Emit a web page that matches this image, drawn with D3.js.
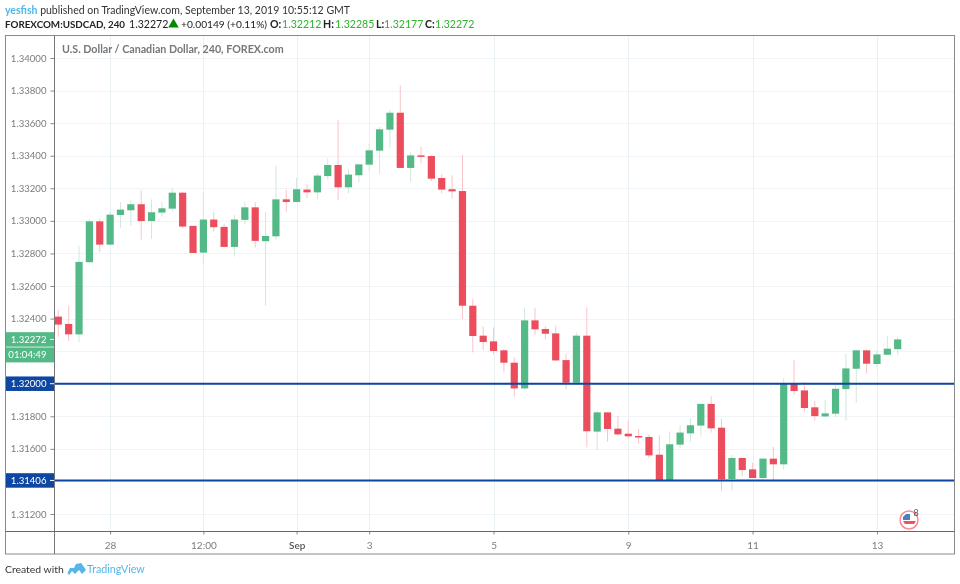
<!DOCTYPE html>
<html>
<head>
<meta charset="utf-8">
<script src="https://cdn.jsdelivr.net/npm/d3@7"></script>
<style>
  html, body { margin: 0; padding: 0; background: #fff; }
  svg { display: block; filter: blur(0.35px); }
  text { font-family: Lato, sans-serif; }
  .domain { display: none; }
</style>
</head>
<body>
<svg id="chart" width="960" height="584"></svg>
<script>
// --- DATA ---

const opens = [1.32412,1.32367,1.32303,1.32746,1.32997,1.32854,1.33036,1.33065,1.33102,1.32999,1.33051,1.33075,1.33173,1.32969,1.32805,1.33008,1.32963,1.32840,1.33006,1.33083,1.32875,1.32905,1.33132,
  1.33116,1.33192,1.33175,1.33275,1.33343,1.33206,1.33280,1.33345,1.33431,1.33560,1.33664,1.33325,1.33402,1.33398,1.33263,1.33194,1.33183,1.32479,1.32295,1.32260,1.32205,1.32129,1.31971,1.32389,1.32336,1.32309,1.32145,1.32006,
  1.32295,1.31706,1.31824,1.31724,1.31693,1.31679,1.31673,1.31564,1.31405,1.31626,1.31695,1.31743,1.31876,1.31730,1.31415,1.31544,1.31474,1.31421,1.31540,1.31505,1.32002,1.31959,1.31855,1.31799,1.31816,1.31967,1.32092,1.32205,1.32121,1.32178,1.32212];
const closes = [1.32363,1.32303,1.32748,1.32997,1.32854,1.33038,1.33069,1.33102,1.32999,1.33053,1.33077,1.33173,1.32965,1.32803,1.33008,1.32961,1.32840,1.33008,1.33083,1.32877,1.32907,1.33132,1.33116,
  1.33194,1.33175,1.33278,1.33343,1.33206,1.33284,1.33347,1.33433,1.33562,1.33664,1.33325,1.33402,1.33394,1.33259,1.33192,1.33181,1.32479,1.32293,1.32256,1.32201,1.32129,1.31971,1.32389,1.32334,1.32307,1.32143,1.32006,1.32295,
  1.31708,1.31824,1.31722,1.31689,1.31677,1.31671,1.31560,1.31405,1.31628,1.31700,1.31745,1.31876,1.31726,1.31413,1.31544,1.31470,1.31421,1.31540,1.31505,1.31998,1.31955,1.31851,1.31801,1.31818,1.31969,1.32094,1.32205,1.32123,1.32180,1.32215,1.32272];
const highs = [1.32453,1.32477,1.32846,1.33010,1.33014,1.33053,1.33114,1.33126,1.33188,1.33132,1.33118,1.33200,1.33175,1.32969,1.33175,1.33055,1.32981,1.33036,1.33118,1.33114,1.33053,1.33339,1.33190,
  1.33265,1.33224,1.33292,1.33384,1.33619,1.33318,1.33347,1.33472,1.33578,1.33681,1.33832,1.33419,1.33454,1.33402,1.33288,1.33280,1.33404,1.32522,1.32350,1.32346,1.32215,1.32162,1.32463,1.32467,1.32354,1.32356,1.32182,1.32315,
  1.32469,1.31835,1.31824,1.31802,1.31775,1.31722,1.31687,1.31683,1.31708,1.31745,1.31785,1.31876,1.31923,1.31785,1.31562,1.31544,1.31515,1.31544,1.31612,1.32033,1.32146,1.32010,1.31896,1.31900,1.32002,1.32186,1.32207,1.32207,1.32207,1.32295,1.32285];
const lows = [1.32289,1.32262,1.32256,1.32744,1.32809,1.32854,1.32958,1.32971,1.32885,1.32889,1.33026,1.33057,1.32956,1.32803,1.32733,1.32934,1.32838,1.32780,1.32979,1.32836,1.32479,1.32883,1.33057,
  1.33112,1.33140,1.33134,1.33251,1.33128,1.33169,1.33237,1.33306,1.33286,1.33449,1.33323,1.33241,1.33353,1.33245,1.33169,1.33138,1.32397,1.32192,1.32207,1.32182,1.32068,1.31920,1.31961,1.32301,1.32272,1.32141,1.31965,1.32006,
  1.31609,1.31593,1.31644,1.31683,1.31661,1.31634,1.31544,1.31405,1.31401,1.31605,1.31644,1.31683,1.31700,1.31343,1.31343,1.31433,1.31421,1.31399,1.31409,1.31474,1.31931,1.31830,1.31773,1.31793,1.31795,1.31773,1.31883,1.32063,1.32104,1.32176,1.32177];

const priceTicks = [1.34,1.338,1.336,1.334,1.332,1.33,1.328,1.326,1.324,1.322,1.32,1.318,1.316,1.314,1.312];
// these labels sit behind the price tags, so the reference doesn't show them
const hiddenPriceLabels = [1.322, 1.32, 1.314];
const timeTickBars = [5,14,23,30,42,55,67,79];
const timeTickLabels = ["28","12:00","Sep","3","5","9","11","13"];
const levels = [1.32, 1.31406];

const lastPrice = 1.32272;
const countdown = "01:04:49";

// --- COLORS ---

const upColor = "#53b987";
const downColor = "#eb4d5c";
const upWick = "#cfe9dc";
const downWick = "#fbc3c9";
const levelColor = "#0d47a1";
const gridColor = "#f0f4f8";
const frameColor = "#8a8a8a";
const axisFont = "Roboto, sans-serif";

// --- SCALES ---

const plot = { left: 54.5, right: 954.5, top: 35.5, bottom: 531.5 };
const y = d3.scaleLinear().domain([1.34, 1.312]).range([58, 514]);
const x = d3.scaleLinear().domain([0, 81]).range([58.3, 897.7]);

const svg = d3.select("#chart");
const fmt = d3.format(".5f");

// --- GRID ---

svg.append("g").selectAll("line").data(priceTicks).join("line")
    .attr("x1", plot.left).attr("x2", plot.right)
    .attr("y1", d => Math.round(y(d)) + 0.5).attr("y2", d => Math.round(y(d)) + 0.5)
    .attr("stroke", gridColor);

svg.append("g").selectAll("line").data(timeTickBars).join("line")
    .attr("x1", d => Math.round(x(d)) + 0.5).attr("x2", d => Math.round(x(d)) + 0.5)
    .attr("y1", plot.top).attr("y2", plot.bottom)
    .attr("stroke", "#eaf1f5");

// --- CANDLES ---

const candles = opens.map((o, i) => ({ i, o, h: highs[i], l: lows[i], c: closes[i], up: closes[i] >= o }));

svg.append("g").selectAll("line").data(candles).join("line")
    .attr("x1", d => x(d.i)).attr("x2", d => x(d.i))
    .attr("y1", d => y(d.h)).attr("y2", d => y(d.l))
    .attr("stroke", d => d.up ? upWick : downWick)
    .attr("stroke-width", 1);

svg.append("g").selectAll("rect").data(candles).join("rect")
    .attr("x", d => x(d.i) - 3.6)
    .attr("width", 7.2)
    .attr("y", d => y(Math.max(d.o, d.c)))
    .attr("height", d => Math.max(1.5, Math.abs(y(d.o) - y(d.c))))
    .attr("fill", d => d.up ? upColor : downColor);

// --- LEVEL LINES ---

svg.append("g").selectAll("line").data(levels).join("line")
    .attr("x1", plot.left).attr("x2", plot.right)
    .attr("y1", d => y(d)).attr("y2", d => y(d))
    .attr("stroke", levelColor).attr("stroke-width", 2);

// --- AXES ---

const priceAxis = d3.axisLeft(y).tickValues(priceTicks)
    .tickFormat(d => hiddenPriceLabels.includes(d) ? "" : fmt(d)).tickSize(4).tickPadding(4);
const gPrice = svg.append("g").attr("transform", `translate(${plot.left},0)`).call(priceAxis);
gPrice.selectAll("text").attr("font-size", 9.6).attr("fill", "#7c7c7c").attr("font-family", axisFont);
gPrice.selectAll("text").filter(d => hiddenPriceLabels.includes(d)).remove();
gPrice.selectAll("line").attr("stroke", "#8a8a8a");

const timeAxis = d3.axisBottom(x).tickValues(timeTickBars)
    .tickFormat((d, i) => timeTickLabels[i]).tickSize(3).tickPadding(7);
const gTime = svg.append("g").attr("transform", `translate(0,${plot.bottom})`).call(timeAxis);
gTime.selectAll("text").attr("font-size", 10).attr("fill", "#7c7c7c").attr("font-family", axisFont);
gTime.selectAll("text").filter(d => d === 23).attr("font-weight", 600).attr("fill", "#555");
gTime.selectAll("line").attr("stroke", "#8a8a8a");

// price tags on the axis
function priceTag(cy, h, fill, label, tick) {
    svg.append("rect").attr("x", 5.5).attr("y", cy - h / 2).attr("width", 49).attr("height", h).attr("fill", fill);
    svg.append("text").attr("x", 46.5).attr("y", cy + 3.5).attr("text-anchor", "end")
        .attr("font-size", 9.6).attr("font-family", axisFont).attr("fill", "#fff").text(label);
    if (tick) svg.append("line").attr("x1", 50).attr("x2", 54).attr("y1", cy).attr("y2", cy).attr("stroke", "#fff");
}
priceTag(y(lastPrice), 14.5, upColor, fmt(lastPrice), true);
priceTag(y(lastPrice) + 15.5, 15, upColor, countdown, false);
levels.forEach(l => priceTag(y(l), 14.5, levelColor, fmt(l), true));

// --- FRAME ---

svg.append("rect").attr("x", 5.5).attr("y", plot.top).attr("width", 949).attr("height", 518.5)
    .attr("fill", "none").attr("stroke", frameColor);
svg.append("line").attr("x1", plot.left).attr("x2", plot.left).attr("y1", plot.top).attr("y2", 554)
    .attr("stroke", "#777").attr("stroke-width", 1);
svg.append("line").attr("x1", 5.5).attr("x2", plot.right).attr("y1", plot.bottom).attr("y2", plot.bottom)
    .attr("stroke", "#666");

// --- HEADER TEXT ---

const line1 = svg.append("text").attr("x", 5).attr("y", 14).attr("font-size", 10.5).attr("fill", "#333");
line1.append("tspan").attr("fill", "#4fb6e8").attr("font-weight", 700).text("yesfish");
line1.append("tspan").text(" published on TradingView.com, September 13, 2019 10:55:12 GMT");

// second header line, each chunk at its own x and size
const header2 = [
    { x: 5, s: 9.8, t: "FOREXCOM:USDCAD, 240", w: 700, c: "#222" },
    { x: 129, s: 10.6, t: "1.32272", w: 400, c: "#222" },
    { x: 181, s: 10.2, t: "+0.00149 (+0.11%)", w: 400, c: "#222" },
    { x: 270, s: 10.6, t: "O:", w: 700, c: "#222" },
    { x: 282, s: 10.6, t: "1.32212", w: 400, c: "#2db32d" },
    { x: 323, s: 10.6, t: "H:", w: 700, c: "#222" },
    { x: 335, s: 10.6, t: "1.32285", w: 400, c: "#2db32d" },
    { x: 376, s: 10.6, t: "L:", w: 700, c: "#222" },
    { x: 384, s: 10.6, t: "1.32177", w: 400, c: "#2db32d" },
    { x: 425, s: 10.6, t: "C:", w: 700, c: "#222" },
    { x: 435, s: 10.6, t: "1.32272", w: 400, c: "#2db32d" }
];
svg.append("g").selectAll("text").data(header2).join("text")
    .attr("x", d => d.x).attr("y", 28).attr("font-size", d => d.s)
    .attr("font-weight", d => d.w).attr("fill", d => d.c).text(d => d.t);
svg.append("path").attr("transform", "translate(173.5,24.5)")
    .attr("d", d3.symbol().type(d3.symbolTriangle).size(48)()).attr("fill", "#008a00");

svg.append("text").attr("x", 62).attr("y", 53).attr("font-size", 10.7).attr("font-weight", 700)
    .attr("fill", "#777").text("U.S. Dollar / Canadian Dollar, 240, FOREX.com");

// --- EVENT BADGE ---

const badge = svg.append("g").attr("transform", "translate(909,520)");
badge.append("circle").attr("r", 9).attr("fill", "#fff").attr("stroke", "#f98a95").attr("stroke-width", 1.5);
badge.append("path").attr("d", "M-6,0 V-3 L-3,-6 H1 V0 Z").attr("fill", "#4a7fc4");
badge.append("path").attr("d", "M-6,1 H7 L5,4 H-4 Z").attr("fill", "#f0505f");
svg.append("text").attr("x", 913.5).attr("y", 516).attr("font-size", 9).attr("fill", "#555").text("8");

// --- FOOTER ---

svg.append("text").attr("x", 5).attr("y", 573).attr("font-size", 10.4).attr("fill", "#333").text("Created with");
svg.append("path").attr("d", "M67.5,573 L70,568 L74,568 L76,564 L81,563 L84,567 L86,570 L82,574 L79,570 L75,574 L72,571 L69,575 Z")
    .attr("fill", "#53b8e8");
svg.append("text").attr("x", 87).attr("y", 573).attr("font-size", 10.7).attr("fill", "#53b8e8").text("TradingView");
</script>
</body>
</html>
